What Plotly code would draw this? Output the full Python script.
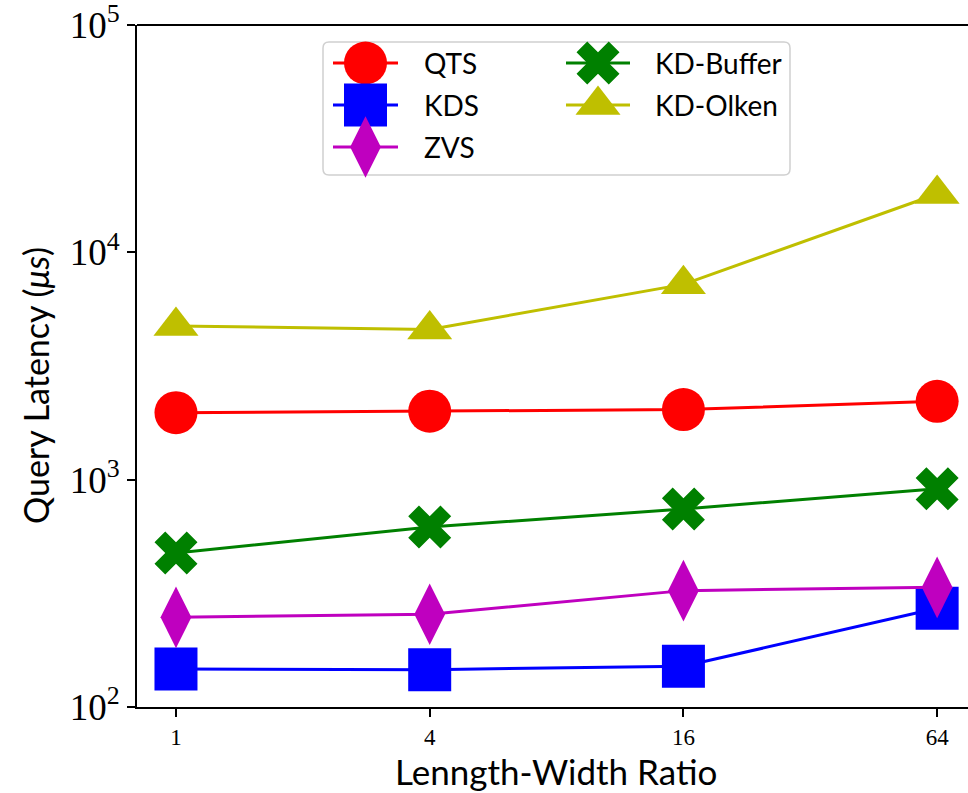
import plotly.graph_objects as go

# Length-width ratios on the x axis
ratios = [1, 4, 16, 64]
ratio_labels = ["1", "4", "16", "64"]

# Query latency in microseconds for each structure
qts = [1970, 2000, 2035, 2210]
kds = [147, 146, 151, 272]
zvs = [248, 256, 325, 336]
kd_buffer = [476, 619, 743, 912]
kd_olken = [4740, 4580, 7230, 18050]

series_names = ["QTS", "KDS", "ZVS", "KD-Buffer", "KD-Olken"]
series_values = [qts, kds, zvs, kd_buffer, kd_olken]

y_tickvals = [100, 1000, 10000, 100000]
y_ticktext = ["10<sup>2</sup>", "10<sup>3</sup>", "10<sup>4</sup>", "10<sup>5</sup>"]

styles = {
    "QTS": dict(color="#ff0000", symbol="circle", size=43),
    "KDS": dict(color="#0000ff", symbol="square", size=43),
    "ZVS": dict(color="#bf00bf", symbol="diamond-tall", size=44),
    "KD-Buffer": dict(color="#008000", symbol="x", size=38),
    "KD-Olken": dict(color="#bfbf00", symbol="triangle-up", size=39),
}

W, H = 968, 793
L, R, T, B = 137, 968, 25, 707

SANS = "Lato, 'Open Sans', sans-serif"
SERIF = "'Liberation Serif', 'DejaVu Serif', serif"


def px_x(p):
    return (p - L) / (R - L)


def px_y(p):
    return (B - p) / (B - T)


fig = go.Figure()

for name, vals in zip(series_names, series_values):
    st = styles[name]
    fig.add_trace(go.Scatter(
        x=ratios, y=vals, name=name, mode="lines+markers",
        line=dict(color=st["color"], width=3),
        marker=dict(color=st["color"], symbol=st["symbol"], size=st["size"],
                    line=dict(width=0)),
        cliponaxis=False, showlegend=False,
    ))

# Legend drawn on a pixel-space overlay so the samples keep full marker size
legend_slots = {
    "QTS": (0, 0), "KDS": (0, 1), "ZVS": (0, 2),
    "KD-Buffer": (1, 0), "KD-Olken": (1, 1),
}
col_line = [(333, 398), (566, 630)]
col_text = [422, 653]
row_y = [63, 105, 147]

for name in series_names:
    st = styles[name]
    c, r = legend_slots[name]
    x0, x1 = col_line[c]
    yy = row_y[r]
    fig.add_trace(go.Scatter(
        x=[x0, x1], y=[yy, yy], mode="lines", xaxis="x2", yaxis="y2",
        line=dict(color=st["color"], width=3), showlegend=False, hoverinfo="skip",
    ))
    fig.add_trace(go.Scatter(
        x=[(x0 + x1) / 2], y=[yy], mode="markers", xaxis="x2", yaxis="y2",
        marker=dict(color=st["color"], symbol=st["symbol"], size=st["size"],
                    line=dict(width=0)),
        cliponaxis=False, showlegend=False, hoverinfo="skip",
    ))
    fig.add_annotation(
        x=col_text[c], y=yy, xref="x2", yref="y2", text=name, showarrow=False,
        xanchor="left", yanchor="middle",
        font=dict(family=SANS, size=28, color="black"),
    )

# Rounded legend frame
bx0, bx1, by0, by1, rc = 323, 790, 42, 175, 6
frame = (
    f"M{bx0 + rc},{by0} L{bx1 - rc},{by0} Q{bx1},{by0} {bx1},{by0 + rc} "
    f"L{bx1},{by1 - rc} Q{bx1},{by1} {bx1 - rc},{by1} "
    f"L{bx0 + rc},{by1} Q{bx0},{by1} {bx0},{by1 - rc} "
    f"L{bx0},{by0 + rc} Q{bx0},{by0} {bx0 + rc},{by0} Z"
)
fig.add_shape(type="path", path=frame, xref="x2", yref="y2",
              line=dict(color="#d0d0d0", width=1.5), fillcolor="white",
              layer="below")

# Top frame line of the axes box
fig.add_shape(type="line", xref="paper", yref="paper", x0=0, x1=1, y0=1, y1=1,
              line=dict(color="black", width=2), layer="above")

# Axis titles
fig.add_annotation(
    x=px_x(556), y=px_y(771), xref="paper", yref="paper",
    text="Lenngth-Width Ratio", showarrow=False,
    xanchor="center", yanchor="middle",
    font=dict(family=SANS, size=35, color="black"),
)
fig.add_annotation(
    x=px_x(35), y=px_y(386), xref="paper", yref="paper",
    text="Query Latency (<i>μs</i>)", showarrow=False, textangle=-90,
    xanchor="center", yanchor="middle",
    font=dict(family=SANS, size=34, color="black"),
)

fig.update_layout(
    width=W, height=H,
    margin=dict(l=L, r=W - R, t=T, b=H - B, pad=0),
    paper_bgcolor="white", plot_bgcolor="white",
    showlegend=False,
    xaxis=dict(
        type="log", range=[-0.0925, 1.8794],
        tickvals=ratios, ticktext=ratio_labels,
        ticks="outside", ticklen=8, tickwidth=2, tickcolor="black",
        showline=True, linewidth=2, linecolor="black",
        showgrid=False, zeroline=False,
        tickfont=dict(family=SERIF, size=23, color="black"),
    ),
    yaxis=dict(
        type="log", range=[2, 5],
        tickvals=y_tickvals, ticktext=y_ticktext,
        ticks="outside", ticklen=8, tickwidth=2, tickcolor="black",
        showline=True, linewidth=2, linecolor="black",
        showgrid=False, zeroline=False, ticklabeloverflow="allow",
        tickfont=dict(family=SERIF, size=37, color="black"),
    ),
    xaxis2=dict(overlaying="x", anchor="y2", range=[L, R], visible=False,
                domain=[0, 1]),
    yaxis2=dict(overlaying="y", anchor="x2", range=[B, T], visible=False,
                domain=[0, 1]),
)

fig.write_html("out.html")
